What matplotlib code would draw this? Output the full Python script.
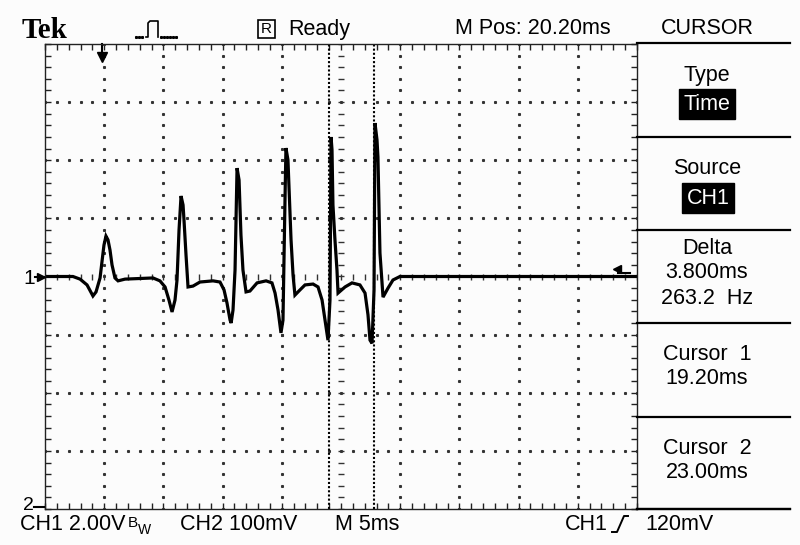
import numpy as np
import matplotlib
matplotlib.use('Agg')
import matplotlib.pyplot as plt
from matplotlib.lines import Line2D
from matplotlib.patches import Rectangle
from matplotlib.ticker import FixedLocator

# ---- trace (time in ms, CH1 in volts) ----
t_ms = [-4.8, -2.44, -1.84, -1.25, -0.75, -0.49, -0.15, 0.01, 0.18, 0.35, 0.52, 0.69, 0.86, 1.11, 1.37, 1.96,
        4.32, 4.91, 5.34, 5.67, 5.93, 6.18, 6.35, 6.52, 6.69, 6.86, 6.94, 7.11, 7.28, 7.70, 8.29,
        9.39, 9.98, 10.32, 10.57, 10.83, 10.92, 11.08, 11.25, 11.42, 11.59, 11.75, 11.92, 12.18, 12.51, 13.11,
        13.87, 14.37, 14.63, 14.88, 15.13, 15.30, 15.47, 15.55, 15.72, 15.98, 16.15, 16.31, 16.74, 17.16,
        17.84, 18.26, 18.60, 18.85, 19.10, 19.27, 19.36, 19.44, 19.52, 19.69, 19.86, 19.95, 20.54, 21.13,
        21.80, 22.23, 22.48, 22.65, 22.82, 22.99, 23.07, 23.24, 23.32, 23.49, 23.75, 24.17, 24.59, 25.18, 45.2]
volts = [0.0, 0.0, -0.09, -0.29, -0.67, -0.53, -0.05, 0.50, 1.08, 1.39, 1.26, 0.91, 0.40, -0.05, -0.15, -0.09,
         -0.05, -0.15, -0.36, -0.81, -1.22, -0.81, -0.12, 1.60, 2.77, 2.46, 1.94, 0.74, -0.36, -0.33, -0.19,
         -0.15, -0.19, -0.46, -0.91, -1.50, -1.60, -1.15, 0.22, 3.73, 3.32, 1.43, 0.22, -0.53, -0.50, -0.22,
         -0.15, -0.22, -0.57, -1.15, -1.94, -1.50, 2.63, 4.42, 4.01, 1.26, 0.05, -0.64, -0.46, -0.29,
         -0.26, -0.36, -0.81, -1.50, -2.19, -0.81, 4.80, 4.36, 2.46, 1.26, 0.22, -0.57, -0.36, -0.22,
         -0.29, -0.57, -1.32, -2.19, -2.30, -0.46, 5.28, 4.70, 4.11, 0.81, -0.71, -0.40, -0.12, 0.0, 0.0]

# scope settings
m_pos = 20.20          # ms at screen centre
time_div = 5.0         # ms/div
volt_div = 2.0         # V/div
cursor1 = 19.20
cursor2 = 23.00
trig_level = 0.12      # V

W, H = 800, 545
plt.rcParams['font.family'] = ['Liberation Sans', 'DejaVu Sans']


def fx(x):
    return x / W


def fy(y):
    return 1 - y / H


fig = plt.figure(figsize=(W / 100, H / 100), dpi=100)
fig.patch.set_facecolor('#fcfcfc')

L, R, T, B = 45, 637, 44, 509
ax = fig.add_axes([fx(L), fy(B), (R - L) / W, (B - T) / H])
ax.set_facecolor('#fcfcfc')
x0 = m_pos - 5 * time_div
x1 = m_pos + 5 * time_div
ax.set_xlim(x0, x1)
ax.set_ylim(-4 * volt_div, 4 * volt_div)

# graticule: dotted major lines, ticked centre cross
minor_t = np.arange(x0, x1 + 0.01, time_div / 5)
minor_v = np.arange(-4 * volt_div, 4 * volt_div + 0.01, volt_div / 5)
for k in range(1, 10):
    tk = x0 + k * time_div
    if k == 5:
        ax.plot(np.full_like(minor_v, tk), minor_v, ls='none', marker='_', ms=5, mew=1, color='#333')
    else:
        ax.plot(np.full_like(minor_v, tk), minor_v, ls='none', marker='s', ms=1.2, color='#333')
for k in range(-3, 4):
    vk = k * volt_div
    if k == 0:
        ax.plot(minor_t, np.zeros_like(minor_t), ls='none', marker='|', ms=5, mew=1, color='#333')
    else:
        ax.plot(minor_t, np.full_like(minor_t, vk), ls='none', marker='s', ms=1.2, color='#333')

for s in ax.spines.values():
    s.set_linewidth(1.0)
    s.set_color('#222')
ax.xaxis.set_major_locator(FixedLocator(minor_t))
ax.yaxis.set_major_locator(FixedLocator(minor_v))
ax.tick_params(which='both', direction='in', length=4, width=1, color='#222',
               top=True, right=True, labelbottom=False, labelleft=False)

# cursors
for c in (cursor1, cursor2):
    ax.axvline(c, color='black', lw=1.5, ls=(0, (1, 1)))

# trace
ax.plot(t_ms, volts, color='black', lw=2.3, solid_joinstyle='miter')

# trigger position marker (t = 0) and trigger level marker
ax.plot([0, 0], [8, 7.6], color='black', lw=1.5, clip_on=False)
ax.plot([0], [7.55], marker='v', ms=7, color='black', clip_on=False)
ax.plot([43.6, 44.6], [trig_level, trig_level], color='black', lw=1.5)
ax.plot([43.5], [trig_level + 0.15], marker='<', ms=6, color='black')

# channel markers on left
fig.text(fx(29), fy(279), '1', fontsize=15, ha='center', va='center')
fig.add_artist(Line2D([fx(35), fx(44)], [fy(277), fy(277)], color='black', lw=1.5))
fig.add_artist(Line2D([fx(41)], [fy(277)], marker='>', ms=6, color='black'))
fig.text(fx(28), fy(505), '2', fontsize=14, ha='center', va='center')
fig.add_artist(Line2D([fx(34), fx(44)], [fy(507), fy(507)], color='black', lw=1.5))

# right menu panel
for yy in (43, 137, 230, 323, 417, 509):
    fig.add_artist(Line2D([fx(R), fx(790)], [fy(yy), fy(yy)], color='black', lw=1.6))

cx = 707
fs = 15.5
box = dict(boxstyle='square,pad=0.22', fc='black', ec='black')
fig.text(fx(cx), fy(28), 'CURSOR', fontsize=fs, ha='center', va='center')
fig.text(fx(cx), fy(75), 'Type', fontsize=fs, ha='center', va='center')
fig.text(fx(cx), fy(104), 'Time', fontsize=fs, ha='center', va='center', color='white', bbox=box)
fig.text(fx(cx), fy(168), 'Source', fontsize=fs, ha='center', va='center')
fig.text(fx(cx + 1), fy(198), 'CH1', fontsize=fs, ha='center', va='center', color='white', bbox=box)
fig.text(fx(cx), fy(248), 'Delta', fontsize=fs, ha='center', va='center')
fig.text(fx(cx), fy(273), f'{cursor2 - cursor1:.3f}ms', fontsize=fs, ha='center', va='center')
fig.text(fx(cx), fy(298), f'{1000 / (cursor2 - cursor1):.1f}  Hz', fontsize=fs, ha='center', va='center')
fig.text(fx(cx), fy(355), 'Cursor  1', fontsize=fs, ha='center', va='center')
fig.text(fx(cx), fy(379), f'{cursor1:.2f}ms', fontsize=fs, ha='center', va='center')
fig.text(fx(cx), fy(448), 'Cursor  2', fontsize=fs, ha='center', va='center')
fig.text(fx(cx), fy(472), f'{cursor2:.2f}ms', fontsize=fs, ha='center', va='center')

# top status line
fig.text(fx(22), fy(30), 'Tek', fontsize=21, fontweight='bold', family='Liberation Serif',
         ha='left', va='center')
icon_x = [146, 148, 148, 150, 158, 158]
icon_y = [37, 37, 23, 21, 21, 37]
fig.add_artist(Line2D([fx(v) for v in icon_x], [fy(v) for v in icon_y], color='black', lw=1.2))
for xd in (136, 139, 142, 161, 164, 167, 170, 173, 176):
    fig.add_artist(Line2D([fx(xd)], [fy(37)], marker='s', ms=1.2, color='black'))
fig.add_artist(Rectangle((fx(258), fy(38)), 17 / W, 18 / H, fill=False, ec='black', lw=1.2))
fig.text(fx(266.5), fy(29), 'R', fontsize=11, ha='center', va='center')
fig.text(fx(288), fy(29), 'Ready', fontsize=fs, ha='left', va='center')
fig.text(fx(455), fy(29), f'M Pos: {m_pos:.2f}ms', fontsize=fs, ha='left', va='center')

# bottom status line
fig.add_artist(Line2D([fx(R), fx(790)], [fy(B), fy(B)], color='black', lw=1.6))
by = 525
fig.text(fx(20), fy(by), f'CH1 {volt_div:.2f}V', fontsize=fs, ha='left', va='center')
fig.text(fx(128), fy(by - 2), 'B', fontsize=11, ha='left', va='center')
fig.text(fx(138), fy(by + 5), 'W', fontsize=10, ha='left', va='center')
fig.text(fx(180), fy(by), 'CH2 100mV', fontsize=fs, ha='left', va='center')
fig.text(fx(335), fy(by), f'M {time_div:.0f}ms', fontsize=fs, ha='left', va='center')
fig.text(fx(565), fy(by), 'CH1', fontsize=fs, ha='left', va='center')
edge_x = [612, 617, 624, 628]
edge_y = [532, 532, 516, 516]
fig.add_artist(Line2D([fx(v) for v in edge_x], [fy(v) for v in edge_y], color='black', lw=1.4))
fig.text(fx(645), fy(by), f'{trig_level * 1000:.0f}mV', fontsize=fs, ha='left', va='center')

fig.savefig('out.png', dpi=100, facecolor=fig.get_facecolor())
